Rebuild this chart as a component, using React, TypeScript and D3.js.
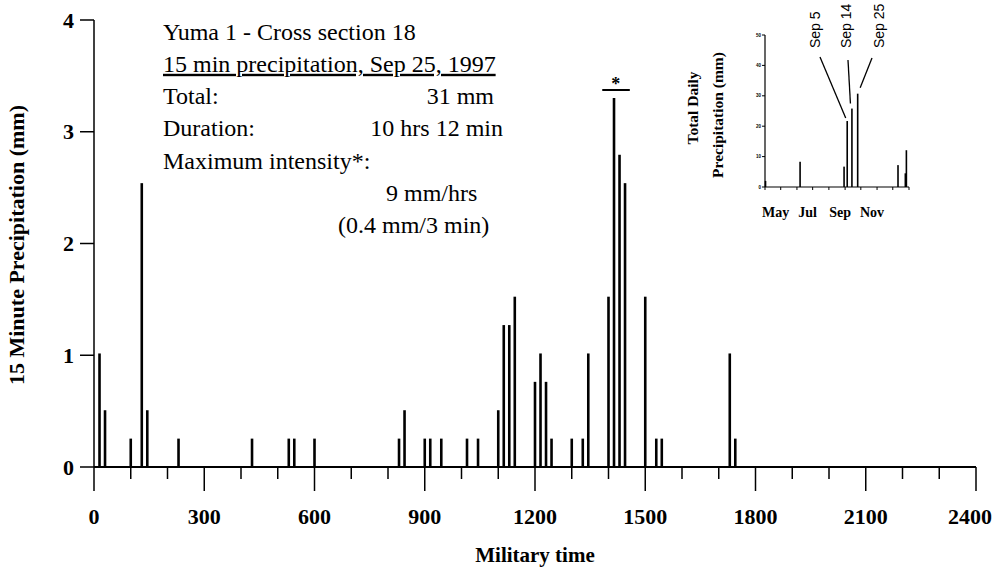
import React from 'react';
import * as d3 from 'd3';

// Main chart data: 15-minute precipitation (mm) by military time
const times = [15, 30, 100, 130, 145, 230, 430, 530, 545, 600, 830, 845, 900, 915, 945, 1015, 1045, 1100, 1115, 1130, 1145, 1200, 1215, 1230, 1245, 1300, 1330, 1345, 1400, 1415, 1430, 1445, 1500, 1530, 1545, 1730, 1745];
const precip = [1.016, 0.508, 0.254, 2.54, 0.508, 0.254, 0.254, 0.254, 0.254, 0.254, 0.254, 0.508, 0.254, 0.254, 0.254, 0.254, 0.254, 0.508, 1.27, 1.27, 1.524, 0.762, 1.016, 0.762, 0.254, 0.254, 0.254, 1.016, 1.524, 3.302, 2.794, 2.54, 1.524, 0.254, 0.254, 1.016, 0.254];
const xTickValues = d3.range(0, 2401, 100);
const xLabelValues = [0, 300, 600, 900, 1200, 1500, 1800, 2100, 2400];
const yTickValues = [0, 1, 2, 3, 4];

// Inset data: total daily precipitation (mm)
const insetDates = ['1997-04-02', '1997-06-07', '1997-08-30', '1997-09-05', '1997-09-14', '1997-09-25', '1997-12-11', '1997-12-25', '1997-12-27'];
const insetValues = [2, 8.3, 6.7, 21.7, 25.8, 30.7, 7.2, 4.5, 12.1];
const insetYTicks = [0, 10, 20, 30, 40, 50];
const insetMonthTicks = ['1997-04-01', '1997-05-01', '1997-06-01', '1997-07-01', '1997-08-01', '1997-09-01', '1997-10-01', '1997-11-01', '1997-12-01', '1998-01-01'];
const insetMonthLabels = [['1997-05-01', 'May'], ['1997-07-01', 'Jul'], ['1997-09-01', 'Sep'], ['1997-11-01', 'Nov']];
const insetAnnotations = ['Sep 5', 'Sep 14', 'Sep 25'];

const textLines = [
  'Yuma 1 - Cross section 18',
  '15 min precipitation, Sep 25, 1997',
];

const serif = '"Liberation Serif", "Times New Roman", serif';
const sans = '"Liberation Sans", Arial, sans-serif';

export default function App() {
  const W = 1003, H = 571;
  const x = d3.scaleLinear().domain([0, 2400]).range([94, 976]);
  const y = d3.scaleLinear().domain([0, 4]).range([467, 20]);

  const parse = d3.timeParse('%Y-%m-%d');
  const ix = d3.scaleTime().domain([parse('1997-04-01')!, parse('1998-01-01')!]).range([765, 909]);
  const iy = d3.scaleLinear().domain([0, 50]).range([187, 35]);

  const tx = 163;
  const baseY = 39.5;
  const lh = 32.3;

  const annLabelX = [815, 846, 879];
  const annLineStart = [[820, 57], [848, 60], [872, 58]];
  const annDates = ['1997-09-05', '1997-09-14', '1997-09-25'];
  const annVals = [21.7, 25.8, 30.7];

  return (
    <svg width={W} height={H} style={{ position: 'absolute', left: 0, top: 0, background: '#fff' }}>
      <rect x={0} y={0} width={W} height={H} fill="#fff" />
      {/* bars */}
      {times.map((t, i) => (
        <rect key={i} x={x(t) - 1.3} y={y(precip[i])} width={2.6} height={y(0) - y(precip[i])} fill="#000" />
      ))}
      {/* axes */}
      <line x1={x(0)} x2={x(0)} y1={y(4)} y2={y(0)} stroke="#000" strokeWidth={1.5} />
      <line x1={x(0)} x2={x(2400)} y1={y(0)} y2={y(0)} stroke="#000" strokeWidth={2} />
      {yTickValues.map(v => (
        <g key={v}>
          <line x1={x(0) - 14} x2={x(0)} y1={y(v)} y2={y(v)} stroke="#000" strokeWidth={1.5} />
          <text x={74} y={y(v)} dy="0.35em" textAnchor="end" fontFamily={serif} fontWeight="bold" fontSize={22}>{v}</text>
        </g>
      ))}
      {xTickValues.map(v => (
        <line key={v} x1={x(v)} x2={x(v)} y1={y(0)} y2={y(0) + (v % 300 === 0 ? 24 : 12)} stroke="#000" strokeWidth={1.5} />
      ))}
      {xLabelValues.map(v => (
        <text key={v} x={x(v) - (v === 2400 ? 6 : 0)} y={524} textAnchor="middle" fontFamily={serif} fontWeight="bold" fontSize={22}>{v}</text>
      ))}
      <text x={535} y={562} textAnchor="middle" fontFamily={serif} fontWeight="bold" fontSize={21}>Military time</text>
      <text transform={`translate(24,245) rotate(-90)`} textAnchor="middle" fontFamily={serif} fontWeight="bold" fontSize={22}>15 Minute Precipitation (mm)</text>

      {/* max intensity marker */}
      <line x1={x(1383)} x2={x(1458)} y1={90} y2={90} stroke="#000" strokeWidth={2} />
      <text x={x(1420)} y={90} textAnchor="middle" fontFamily={serif} fontWeight="bold" fontSize={18}>*</text>

      {/* text block */}
      <g fontFamily={serif} fontSize={24} fill="#000">
        <text x={tx} y={baseY}>{textLines[0]}</text>
        <text x={tx} y={baseY + lh} style={{ textDecoration: 'underline' }}>{textLines[1]}</text>
        <text x={tx} y={baseY + 2 * lh}>Total:</text>
        <text x={494} y={baseY + 2 * lh} textAnchor="end">31 mm</text>
        <text x={tx} y={baseY + 3 * lh}>Duration:</text>
        <text x={503} y={baseY + 3 * lh} textAnchor="end">10 hrs 12 min</text>
        <text x={tx} y={baseY + 4 * lh}>Maximum intensity*:</text>
        <text x={386} y={baseY + 5 * lh}>9 mm/hrs</text>
        <text x={338} y={baseY + 6 * lh}>(0.4 mm/3 min)</text>
      </g>

      {/* inset */}
      <g>
        {insetDates.map((d, i) => (
          <rect key={d} x={ix(parse(d)!) - 0.8} y={iy(insetValues[i])} width={1.6} height={iy(0) - iy(insetValues[i])} fill="#000" />
        ))}
        <line x1={ix.range()[0]} x2={ix.range()[0]} y1={iy(50)} y2={iy(0)} stroke="#000" strokeWidth={1.2} />
        <line x1={ix.range()[0]} x2={ix.range()[1]} y1={iy(0)} y2={iy(0)} stroke="#000" strokeWidth={1.2} />
        {insetYTicks.map(v => (
          <g key={v}>
            <line x1={ix.range()[0] - 3} x2={ix.range()[0]} y1={iy(v)} y2={iy(v)} stroke="#000" strokeWidth={1} />
            <text x={ix.range()[0] - 4} y={iy(v)} dy="0.35em" textAnchor="end" fontFamily={sans} fontWeight="bold" fontSize={4.5}>{v}</text>
          </g>
        ))}
        {insetMonthTicks.map(d => (
          <line key={d} x1={ix(parse(d)!)} x2={ix(parse(d)!)} y1={iy(0)} y2={iy(0) + 3} stroke="#000" strokeWidth={1} />
        ))}
        {insetMonthLabels.map(([d, l]) => (
          <text key={l} x={ix(parse(d)!) - 5} y={217} textAnchor="middle" fontFamily={serif} fontWeight="bold" fontSize={14}>{l}</text>
        ))}
        <text transform="translate(698,108) rotate(-90)" textAnchor="middle" fontFamily={serif} fontWeight="bold" fontSize={15.5}>Total Daily</text>
        <text transform="translate(723,115) rotate(-90)" textAnchor="middle" fontFamily={serif} fontWeight="bold" fontSize={15.5}>Precipitation (mm)</text>
        {insetAnnotations.map((a, i) => (
          <g key={a}>
            <text transform={`translate(${annLabelX[i] + 5},48) rotate(-90)`} fontFamily={sans} fontSize={14}>{a}</text>
            <line x1={annLineStart[i][0]} y1={annLineStart[i][1]} x2={ix(parse(annDates[i])!) - 1.5 + (i === 2 ? 4 : 0)} y2={iy(annVals[i]) - (i === 0 ? 3 : i === 1 ? 5 : 6)} stroke="#000" strokeWidth={1.3} />
          </g>
        ))}
      </g>
    </svg>
  );
}
